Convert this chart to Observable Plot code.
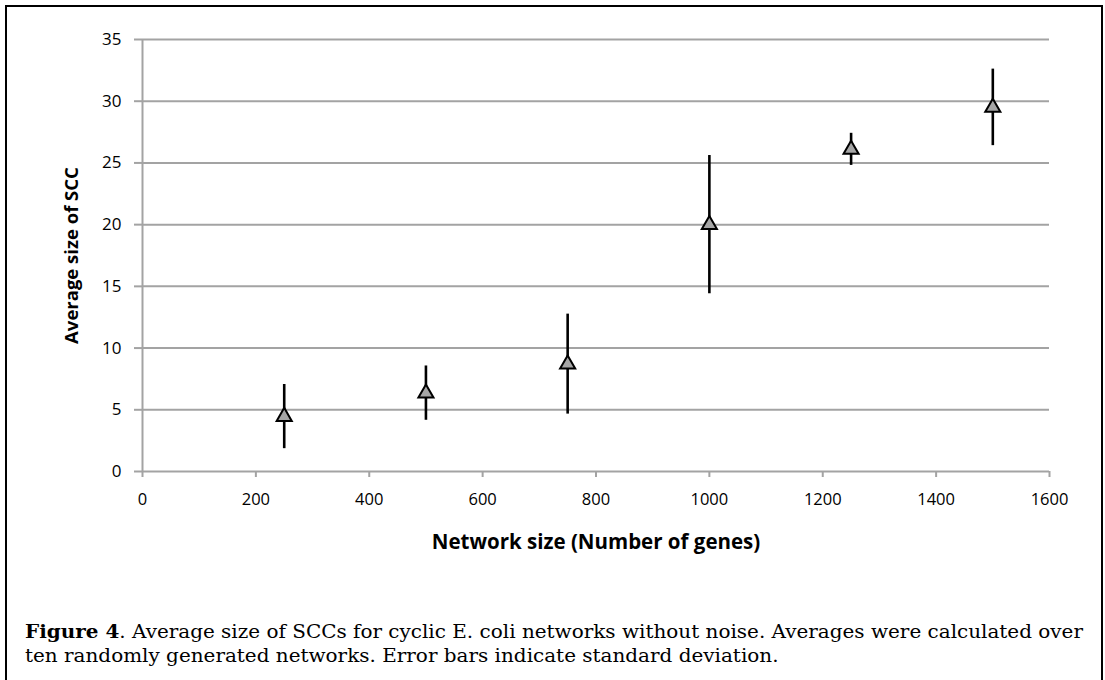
<!DOCTYPE html>
<html><head><meta charset="utf-8">
<script src="https://cdn.jsdelivr.net/npm/d3@7"></script>
<script src="https://cdn.jsdelivr.net/npm/@observablehq/plot@0.6"></script>
<style>
html,body{margin:0;padding:0;background:#fff;width:1105px;height:680px;overflow:hidden;position:relative;}
#frame{position:absolute;left:5px;top:5px;width:1098px;height:720px;border:2px solid #000;box-sizing:border-box;}
#chart{position:absolute;left:0;top:0;}
.cap{position:absolute;left:25px;font-family:"DejaVu Serif",serif;font-size:19px;white-space:nowrap;transform-origin:0 50%;color:#000;line-height:24px;}
</style></head><body>
<div id="frame"></div>
<div id="chart"></div>
<div id="cap1" class="cap" style="top:619px"><b>Figure 4</b>. Average size of SCCs for cyclic E. coli networks without noise. Averages were calculated over</div>
<div id="cap2" class="cap" style="top:643px">ten randomly generated networks. Error bars indicate standard deviation.</div>
<script>
const networkSizes = [250, 500, 750, 1000, 1250, 1500];
const avgSCC = [4.45, 6.35, 8.7, 20.0, 26.1, 29.5];
const stdDev = [2.6, 2.2, 4.05, 5.6, 1.3, 3.1];
const xTicks = [0, 200, 400, 600, 800, 1000, 1200, 1400, 1600];
const yTicks = [0, 5, 10, 15, 20, 25, 30, 35];
const xTitle = "Network size (Number of genes)";
const yTitle = "Average size of SCC";

const data = networkSizes.map((x, i) => ({x, y: avgSCC[i], lo: avgSCC[i] - stdDev[i], hi: avgSCC[i] + stdDev[i]}));
const gray = "#a3a3a3";
const tickFont = "'Open Sans', sans-serif";
const fmt = d3.format("d");

const chart = Plot.plot({
  width: 1105,
  height: 560,
  marginLeft: 142,
  marginRight: 56,
  marginTop: 39,
  marginBottom: 89,
  style: {fontFamily: tickFont, fontSize: "17px", color: "#000", background: "transparent"},
  x: {domain: [0, 1600], ticks: xTicks, tickFormat: fmt},
  y: {domain: [0, 35], ticks: yTicks, tickFormat: fmt},
  marks: [
    Plot.ruleY(yTicks, {x1: 0, x2: 1600, stroke: gray, strokeWidth: 2}),
    Plot.ruleX([0], {y1: 0, y2: 35, stroke: gray, strokeWidth: 2}),
    Plot.axisY({ticks: yTicks, tickFormat: fmt, tickSize: 8, tickPadding: 13, stroke: gray, strokeWidth: 2, label: null, fontSize: 17, fill: "#000"}),
    Plot.axisX({ticks: xTicks, tickFormat: fmt, tickSize: 6, tickPadding: 16, stroke: gray, strokeWidth: 2, label: null, fontSize: 16.5, fill: "#000"}),
    Plot.ruleX(data, {x: "x", y1: "lo", y2: "hi", stroke: "#000", strokeWidth: 2.6}),
    Plot.dot(data, {x: "x", y: "y", symbol: "triangle", r: 5.6, fill: "#a6a6a6", stroke: "#000", strokeWidth: 2}),
    Plot.text([xTitle], {frameAnchor: "bottom", dy: 77, text: d => d, fontWeight: "bold", fontSize: 20.5, textAnchor: "middle"}),
    Plot.text([yTitle], {frameAnchor: "left", dx: -70, rotate: -90, text: d => d, fontWeight: "bold", fontSize: 18.5, textAnchor: "middle"})
  ]
});
document.getElementById("chart").appendChild(chart);

// fit caption lines to the reference widths
const c1 = document.getElementById("cap1"), c2 = document.getElementById("cap2");
const w1 = c1.getBoundingClientRect().width;
const s = 1058 / w1;
c1.style.transform = `scaleX(${s})`;
c2.style.transform = `scaleX(${s})`;
</script>
</body></html>
